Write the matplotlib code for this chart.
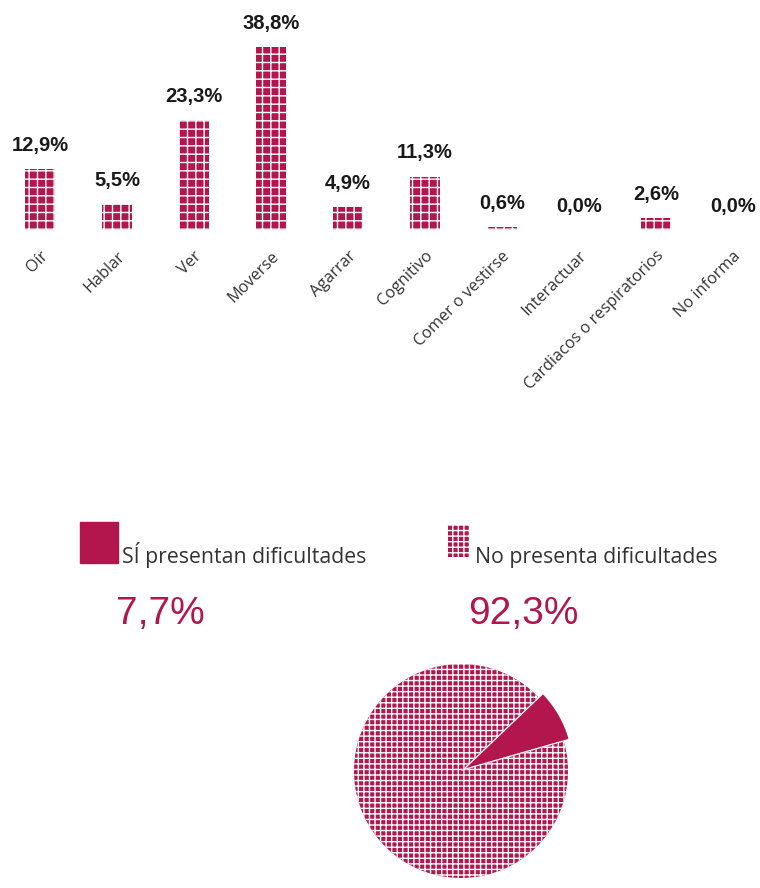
import matplotlib.pyplot as plt
from matplotlib.patches import Rectangle

categories = ["Oír", "Hablar", "Ver", "Moverse", "Agarrar", "Cognitivo",
              "Comer o vestirse", "Interactuar", "Cardiacos o respiratorios",
              "No informa"]
values = [12.9, 5.5, 23.3, 38.8, 4.9, 11.3, 0.6, 0.0, 2.6, 0.0]

pie_labels = ["SÍ presentan dificultades", "No presenta dificultades"]
pie_values = [7.7, 92.3]

crimson = "#B3164C"
narrow = ["Liberation Sans", "DejaVu Sans"]
plt.rcParams["hatch.linewidth"] = 1.0


def pct(v):
    return f"{v:.1f}%".replace(".", ",")


fig = plt.figure(figsize=(7.6, 8.88), dpi=100)

# bar chart
ax = fig.add_axes([0, 1 - 230 / 888, 1, 230 / 888])
x = range(len(values))
ax.bar(x, values, width=0.4, color=crimson, edgecolor="white",
       linewidth=0, hatch="++")
for xi, v in zip(x, values):
    ax.text(xi, v + 3.0, pct(v), ha="center", va="bottom", fontsize=14.5,
            fontweight="bold", family=narrow, color="#1a1a1a")
ax.set_xlim(-40 / 77, 720 / 77)
ax.set_ylim(0, 48.7)
ax.set_xticks(list(x))
ax.set_xticklabels(categories, rotation=45, ha="right",
                   rotation_mode="anchor", fontsize=11.7, color="#333333",
                   family="Open Sans")
ax.tick_params(length=0, pad=13)
for s in ax.spines.values():
    s.set_visible(False)
ax.set_yticks([])

# legend and big numbers
fig.patches.append(Rectangle((80 / 760, 1 - 563 / 888), 38 / 760, 41 / 888,
                             transform=fig.transFigure, color=crimson))
fig.patches.append(Rectangle((448 / 760, 1 - 557 / 888), 22 / 760, 32 / 888,
                             transform=fig.transFigure, facecolor=crimson,
                             edgecolor="white", linewidth=0, hatch="+++"))
fig.text(122 / 760, 1 - 563 / 888, pie_labels[0], fontsize=15.3,
         color="#333333", family="Open Sans", va="baseline")
fig.text(475 / 760, 1 - 563 / 888, pie_labels[1], fontsize=15.3,
         color="#333333", family="Open Sans", va="baseline")
fig.text(116 / 760, 1 - 624 / 888, pct(pie_values[0]), fontsize=28,
         color=crimson, family=narrow, va="baseline")
fig.text(468 / 760, 1 - 624 / 888, pct(pie_values[1]), fontsize=28,
         color=crimson, family=narrow, va="baseline")

# pie
pax = fig.add_axes([(461 - 107) / 760, (888 - 878) / 888, 214 / 760, 214 / 888])
wedges, _ = pax.pie(pie_values, startangle=16, explode=[0.05, 0],
                    colors=[crimson, crimson],
                    wedgeprops=dict(linewidth=0))
wedges[1].set_hatch("+++")
wedges[1].set_edgecolor("white")
pax.set_xlim(-1.0, 1.0)
pax.set_ylim(-1.0, 1.0)
pax.set_aspect("equal")

fig.savefig("out.png", dpi=100)
